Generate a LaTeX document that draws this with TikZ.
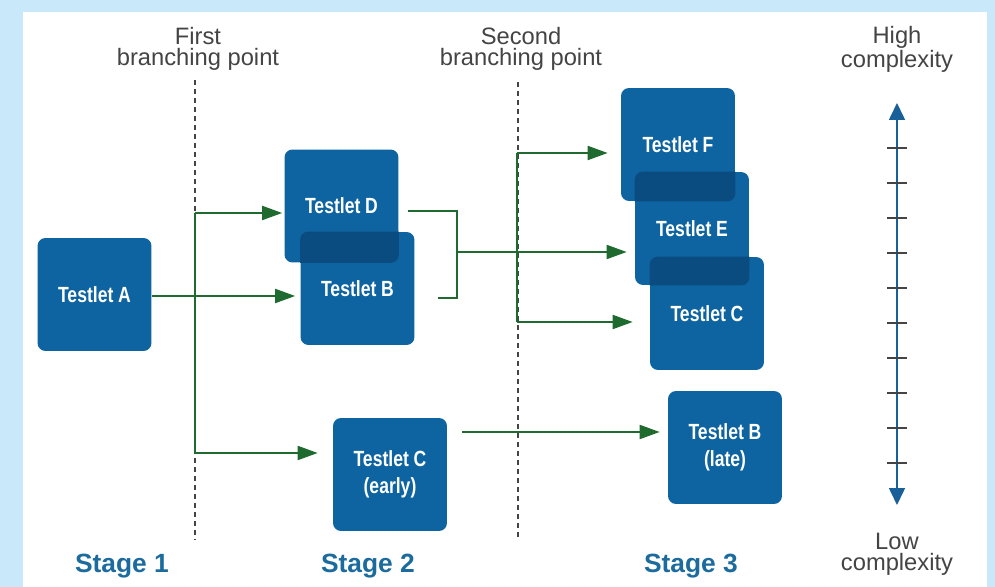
\documentclass[tikz,border=0pt]{standalone}
\usepackage{fontspec}
\setmainfont{Liberation Sans}
\newfontfamily\testletfont[FakeStretch=0.8]{Liberation Sans}
\usetikzlibrary{arrows.meta}

\definecolor{framebg}{HTML}{C9E9FB}
\definecolor{testletblue}{HTML}{0E64A0}
\definecolor{overlapblue}{HTML}{0A4C80}
\definecolor{pathgreen}{HTML}{1F6B2F}
\definecolor{stageblue}{HTML}{1B6B9E}
\definecolor{axisblue}{HTML}{17609A}
\definecolor{labelgray}{HTML}{444444}

\begin{document}
\begin{tikzpicture}[x=0.02cm, y=-0.02cm,
    testlet/.style={fill=testletblue, rounded corners=0.16cm, minimum width=2.28cm,
      minimum height=2.26cm, text=white, align=center,
      font=\testletfont\bfseries\fontsize{12.5}{15}\selectfont},
    flowline/.style={pathgreen, line width=1.1pt},
    flow/.style={flowline, -{Triangle[length=0.4cm, width=0.28cm]}},
    branchline/.style={labelgray, line width=0.6pt, dash pattern=on 1mm off 0.8mm},
    heading/.style={labelgray, align=center, font=\fontsize{13.5}{12}\selectfont},
    stagelabel/.style={stageblue, font=\bfseries\fontsize{15}{18}\selectfont}]

    % frame
    \useasboundingbox (0,0) rectangle (995,587);
    \fill[framebg] (0,0) rectangle (995,587);
    \fill[white] (23,12) rectangle (987,587);

    % branching points
    \draw[branchline] (195,80) -- (195,540);
    \draw[branchline] (518,82) -- (518,540);
    \node[heading] (firstbp) at (198,49) {First\\branching point};
    \node[heading] (secondbp) at (521,49) {Second\\branching point};

    % testlets
    \node[testlet] (A) at (94.5,294.5) {Testlet A};
    \node[testlet] (D) at (341.5,206) {Testlet D};
    \node[testlet] (B) at (357.5,288.5) {Testlet B};
    \node[testlet] (Cearly) at (390,474.5) {Testlet C\\(early)};
    \node[testlet] (F) at (678,144.5) {Testlet F};
    \node[testlet] (E) at (692,228.5) {Testlet E};
    \node[testlet] (C) at (707,313.5) {Testlet C};
    \node[testlet] (Blate) at (725,447.5) {Testlet B\\(late)};

    % darker overlaps
    \begin{scope}
      \clip[rounded corners=0.16cm] (D.south west) rectangle (D.north east);
      \fill[overlapblue, rounded corners=0.16cm] (B.south west) rectangle (B.north east);
    \end{scope}
    \begin{scope}
      \clip[rounded corners=0.16cm] (F.south west) rectangle (F.north east);
      \fill[overlapblue, rounded corners=0.16cm] (E.south west) rectangle (E.north east);
    \end{scope}
    \begin{scope}
      \clip[rounded corners=0.16cm] (E.south west) rectangle (E.north east);
      \fill[overlapblue, rounded corners=0.16cm] (C.south west) rectangle (C.north east);
    \end{scope}

    % first branching
    \coordinate (b1top) at (195,213);
    \coordinate (b1bot) at (195,453);
    \coordinate (Aout) at (152,296);
    \draw[flowline] (b1top) -- (b1bot);
    \draw[flow, shorten >=1mm] (Aout) -- (Aout -| B.west);
    \draw[flow, shorten >=0.4mm] (b1top) -- (b1top -| D.west);
    \draw[flow, shorten >=3mm] (b1bot) -- (b1bot -| Cearly.west);

    % bracket from D and B
    \coordinate (brtop) at (408,211);
    \coordinate (brbot) at (438,298);
    \coordinate (brmid) at (457,252);
    \draw[flowline] (brtop) -- (brtop -| brmid) -- (brbot -| brmid) -- (brbot);
    \draw[flow, shorten >=1.6mm] (brmid) -- (brmid -| E.west);

    % second branching
    \coordinate (b2top) at (517,153);
    \coordinate (b2bot) at (517,322);
    \draw[flowline] (b2top) -- (b2bot);
    \draw[flow, shorten >=2.6mm] (b2top) -- (b2top -| F.west);
    \draw[flow, shorten >=3.4mm] (b2bot) -- (b2bot -| C.west);

    % early to late
    \coordinate (lateout) at (462,432);
    \draw[flow, shorten >=1.6mm] (lateout) -- (lateout -| Blate.west);

    % complexity axis
    \coordinate (axtop) at (897,103);
    \coordinate (axbot) at (897,505);
    \draw[axisblue, line width=0.9pt, {Triangle[length=0.34cm, width=0.32cm]}-{Triangle[length=0.34cm, width=0.32cm]}] (axbot) -- (axtop);
    \foreach \ty in {148,183,...,463}
      \draw[labelgray, line width=0.8pt] (887,\ty) -- (907,\ty);
    \node[heading] (high) at (897,49) {High\\complexity};
    \node[heading] (low) at (897,554) {Low\\complexity};

    % stages
    \node[stagelabel] (stage1) at (122,566) {Stage 1};
    \node[stagelabel] (stage2) at (368,566) {Stage 2};
    \node[stagelabel] (stage3) at (691,566) {Stage 3};
\end{tikzpicture}
\end{document}
